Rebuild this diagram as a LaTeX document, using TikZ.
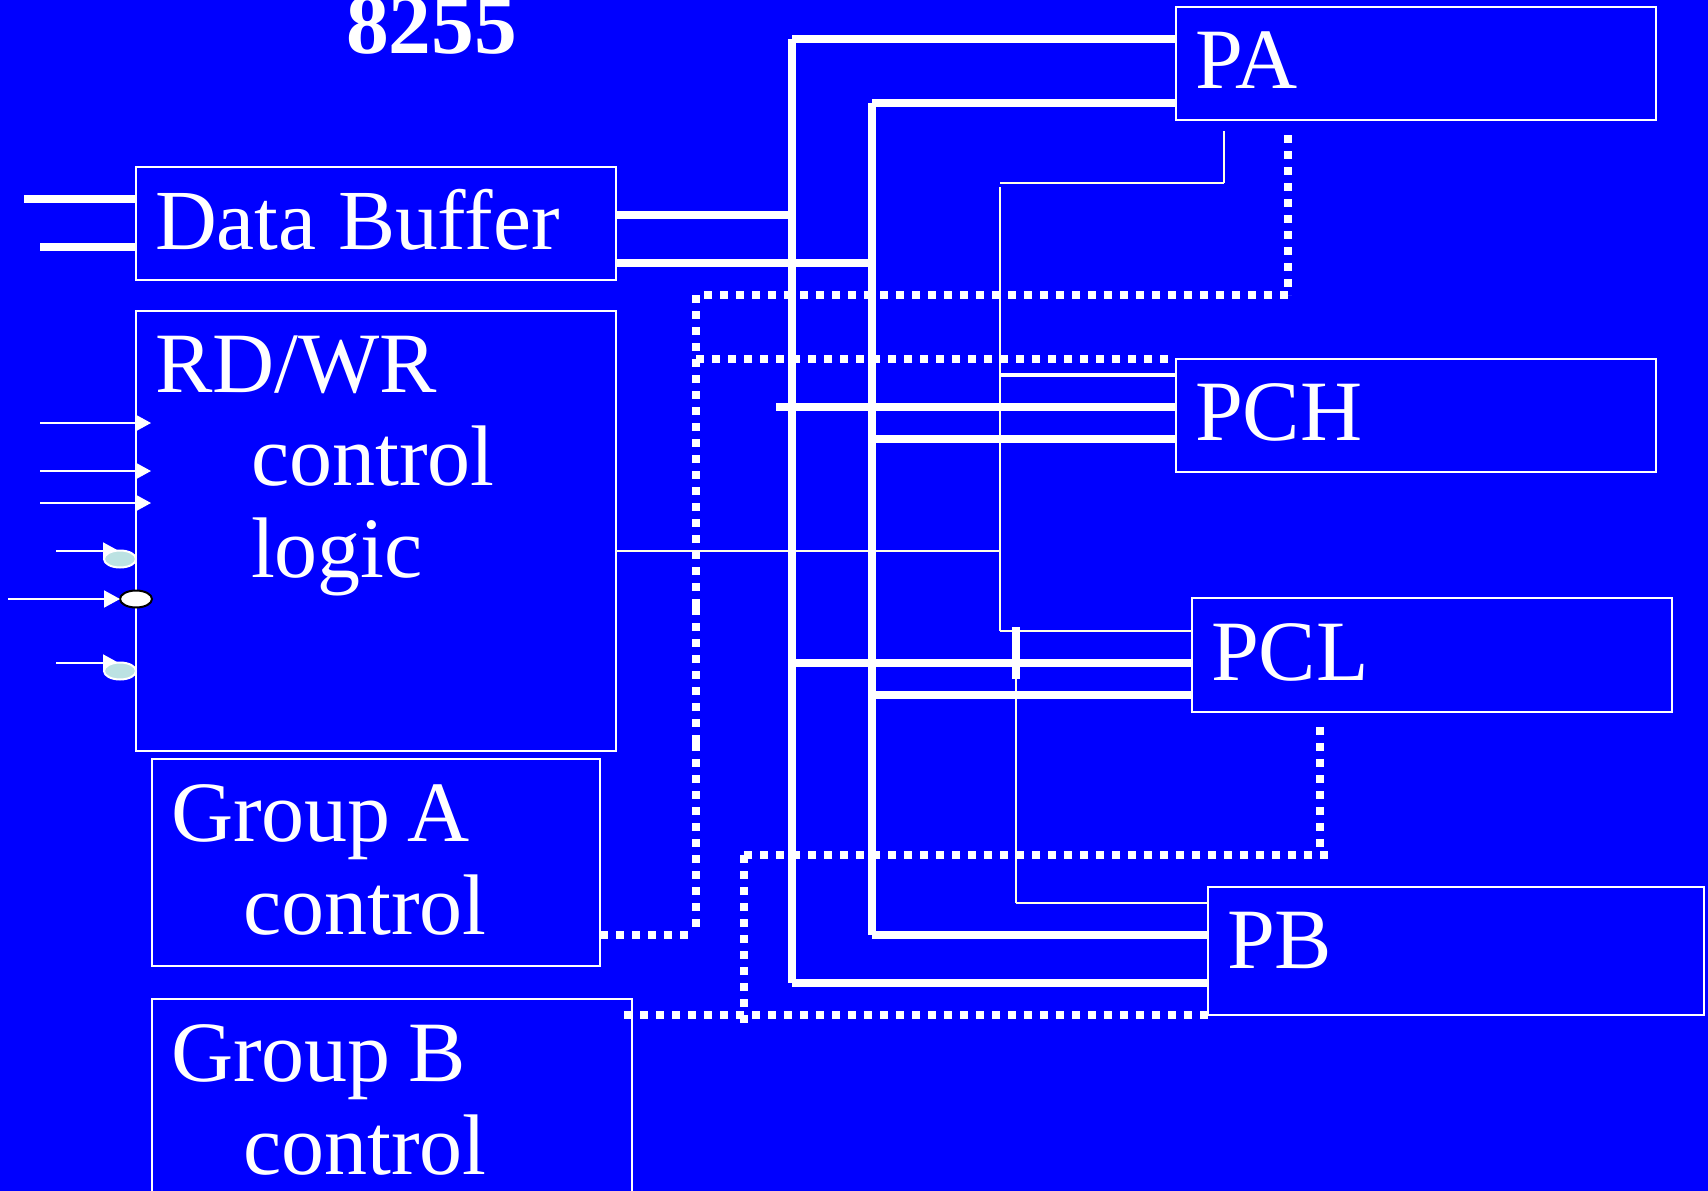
\documentclass[tikz,border=0pt]{standalone}
\usepackage{fontspec}
\setmainfont{Liberation Serif}
\usetikzlibrary{arrows.meta,shapes.geometric}
\definecolor{bgblue}{HTML}{0000FF}
\definecolor{pale}{HTML}{FFFFE8}
\definecolor{teal}{HTML}{BCE2E2}
\tikzset{
  box/.style={draw=white,line width=2pt,rectangle,inner sep=0pt,outer sep=0pt,anchor=north west},
  lbl/.style={text=white,inner sep=0pt,outer sep=0pt,anchor=base west,font=\fontsize{86}{86}\selectfont},
  bus/.style={draw=white,line width=8pt},
  thinw/.style={draw=pale,line width=2pt},
  ctl/.style={draw=white,line width=4pt},
  dots/.style={draw=white,line width=8pt,dash pattern=on 8pt off 8pt},
  sig/.style={draw=white,line width=2pt,-{Triangle[length=16pt,width=17pt,fill=white]}},
  tealdot/.style={ellipse,draw=white,line width=2pt,fill=teal,minimum width=32pt,minimum height=17pt,inner sep=0pt,outer sep=0pt},
  whitedot/.style={ellipse,draw=black,line width=2pt,fill=white,minimum width=32pt,minimum height=17pt,inner sep=0pt,outer sep=0pt}
}
\begin{document}
\begin{tikzpicture}[x=1pt,y=-1pt]
\useasboundingbox (0,0) rectangle (1708,1191);
\clip (0,0) rectangle (1708,1191);
\fill[bgblue] (0,0) rectangle (1708,1191);

% boxes
\node[box,minimum width=480pt,minimum height=113pt] (buf) at (136,166.7) {};
\node[box,minimum width=480pt,minimum height=440pt] (rw) at (136,310.8) {};
\node[box,minimum width=448pt,minimum height=207pt] (ga) at (152,758.8) {};
\node[box,minimum width=480pt,minimum height=240pt] (gb) at (152,998.7) {};
\node[box,minimum width=480pt,minimum height=113.6pt] (pa) at (1176,6.7) {};
\node[box,minimum width=480pt,minimum height=113.3pt] (pch) at (1176,359) {};
\node[box,minimum width=480pt,minimum height=114pt] (pcl) at (1192,598) {};
\node[box,minimum width=496pt,minimum height=128.3pt] (pb) at (1208,886.7) {};

% junctions
\coordinate (v1t) at (792,39);
\coordinate (v1b) at (792,983);
\coordinate (v2t) at (872,103);
\coordinate (v2b) at (872,935);
\coordinate (cx) at (1000,551);
\coordinate (ct) at (1000,187);
\coordinate (cb) at (1000,631);
\coordinate (pt1) at (1000,183);
\coordinate (pt2) at (1224,183);
\coordinate (pt3) at (1224,131);
\coordinate (bt) at (1016,627);
\coordinate (bm) at (1016,679);
\coordinate (bb) at (1016,903);

% thin control lines
\draw[thinw] (rw.east |- cx) -- (cx);
\draw[thinw] (ct) -- (cb);
\draw[thinw] (pt1) -- (pt2);
\draw[thinw] (pt2) -- (pt3);
\draw[ctl] (cx |- 0,375) -- (pch.west |- 0,375);
\draw[thinw] (cb) -- (pcl.west |- cb);
\draw[thinw] (bm) -- (bb);
\draw[thinw] (bb) -- (pb.west |- bb);

% buses
\draw[bus] (v1t) -- (v1b);
\draw[bus] (v2t) -- (v2b);
\draw[bus] (v1t) -- (pa.west |- v1t);
\draw[bus] (v2t) -- (pa.west |- v2t);
\coordinate (l1) at (24,199);
\coordinate (l2) at (40,247);
\draw[bus] (l1) -- (buf.west |- l1);
\draw[bus] (l2) -- (buf.west |- l2);
\draw[bus] (buf.east |- 0,215) -- (v1t |- 0,215);
\draw[bus] (buf.east |- 0,263) -- (v2t |- 0,263);
\coordinate (hs) at (776,407);
\draw[bus] (hs) -- (pch.west |- hs);
\draw[bus] (v2t |- 0,439) -- (pch.west |- 0,439);
\draw[bus] (v1t |- 0,663) -- (pcl.west |- 0,663);
\draw[bus] (v2t |- 0,695) -- (pcl.west |- 0,695);
\draw[bus] (v2b) -- (pb.west |- v2b);
\draw[bus] (v1b) -- (pb.west |- v1b);
\draw[bus] (bt) -- (bm);

% dotted control lines
\coordinate (d1) at (1288,135);
\coordinate (d2) at (1288,295);
\coordinate (d3) at (704,295);
\coordinate (d4) at (696,295);
\coordinate (d4a) at (696,607);
\coordinate (d5) at (696,743);
\coordinate (d6) at (696,928);
\coordinate (d6b) at (688,935);
\coordinate (d7) at (696,359);
\coordinate (d8) at (1168,359);
\coordinate (d9) at (1320,727);
\coordinate (d10) at (1320,848);
\coordinate (d11) at (1328,855);
\coordinate (d12) at (744,855);
\coordinate (d13) at (744,1023);
\coordinate (d14) at (624,1015);
\draw[dots] (d1) -- (d2);
\draw[dots] (d3) -- (d2);
\draw[dots] (d4) -- (d4a);
\draw[dots] (d4a) -- (d5);
\draw[dots] (d5) -- (d6);
\draw[dots] (d7) -- (d8);
\draw[dots] (ga.east |- d6b) -- (d6b);
\draw[dots] (d9) -- (d10);
\draw[dots] (d11) -- (d12);
\draw[dots] (d12) -- (d13);
\draw[dots] (d14) -- (pb.west |- d14);

% input arrows
\coordinate (a1) at (40,423);
\coordinate (a2) at (40,471);
\coordinate (a3) at (40,503);
\draw[sig] (a1) -- (151,423);
\draw[sig] (a2) -- (151,471);
\draw[sig] (a3) -- (151,503);
\node[whitedot] (e2) at (136,599) {};
\coordinate (a5) at (8,599);
\draw[sig] (a5) -- (e2.west);
\coordinate (a4) at (56,551);
\coordinate (a6) at (56,663);
\draw[sig] (a4) -- (119,551);
\draw[sig] (a6) -- (119,663);
\node[tealdot] (e1) at (120,559) {};
\node[tealdot] (e3) at (120,671) {};

% labels
\node[lbl,font=\fontsize{85.5}{86}\selectfont\bfseries] (title) at (346,53) {8255};
\node[lbl,font=\fontsize{85.6}{86}\selectfont] (tbuf) at (155,249) {Data Buffer};
\node[lbl] (trw) at (155,392.5) {RD/WR};
\node[lbl] (trw2) at (251,485) {control};
\node[lbl] (trw3) at (251,577.5) {logic};
\node[lbl] (tga) at (171,841) {Group\hspace{-5pt} A};
\node[lbl] (tga2) at (243,934) {control};
\node[lbl] (tgb) at (171,1081) {Group\hspace{-4pt} B};
\node[lbl] (tgb2) at (243,1174) {control};
\node[lbl] (tpa) at (1195,88) {PA};
\node[lbl] (tpch) at (1195,440) {PCH};
\node[lbl] (tpcl) at (1211,680.5) {PCL};
\node[lbl] (tpb) at (1227,968) {PB};
\end{tikzpicture}
\end{document}
